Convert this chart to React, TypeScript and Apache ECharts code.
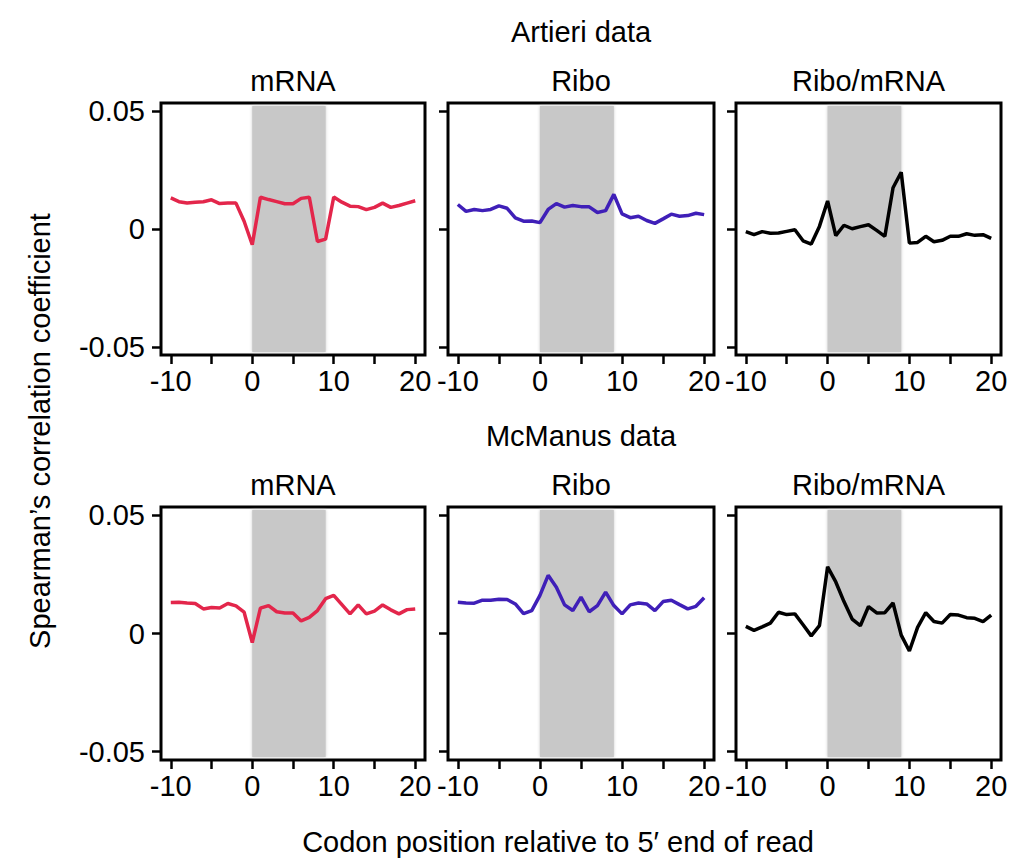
import React, { useEffect, useRef } from "react";
import * as echarts from "echarts";

const positions = [-10,-9,-8,-7,-6,-5,-4,-3,-2,-1,0,1,2,3,4,5,6,7,8,9,10,11,12,13,14,15,16,17,18,19,20];

const artieriMRNA = [0.0132,0.0116,0.011,0.0114,0.0116,0.0124,0.0108,0.011,0.011,0.0033,-0.0067,0.0135,0.0125,0.0116,0.0107,0.0107,0.013,0.0135,-0.0053,-0.0043,0.0136,0.0114,0.0097,0.0095,0.0082,0.0092,0.011,0.0092,0.01,0.011,0.012];
const artieriRibo = [0.0104,0.0075,0.0083,0.0078,0.0083,0.0098,0.0088,0.0047,0.0033,0.0034,0.0027,0.0083,0.0108,0.0093,0.01,0.0095,0.0094,0.007,0.0078,0.0147,0.0064,0.0048,0.0054,0.0036,0.0024,0.0043,0.0063,0.0054,0.0057,0.0067,0.0061];
const artieriRatio = [-0.0011,-0.0024,-0.0011,-0.0018,-0.0017,-0.001,-0.0003,-0.005,-0.0064,0.0011,0.0119,-0.0028,0.0016,0.0001,0.001,0.0018,-0.0006,-0.0031,0.0175,0.0241,-0.006,-0.0057,-0.0031,-0.0054,-0.0048,-0.0031,-0.0031,-0.002,-0.0027,-0.0024,-0.004];
const mcmanusMRNA = [0.0131,0.0132,0.0129,0.0127,0.0104,0.011,0.0108,0.0127,0.0117,0.009,-0.0038,0.0107,0.0118,0.0092,0.0087,0.0087,0.0053,0.0068,0.0097,0.0147,0.0161,0.0122,0.0083,0.0121,0.0083,0.0095,0.0121,0.01,0.0083,0.0101,0.0104];
const mcmanusRibo = [0.0132,0.0129,0.0128,0.0141,0.0141,0.0145,0.0144,0.0125,0.0084,0.0097,0.0161,0.0246,0.0196,0.0121,0.0097,0.0154,0.0092,0.0118,0.0175,0.0118,0.0083,0.0121,0.0129,0.0125,0.0097,0.0135,0.0141,0.0122,0.0104,0.0115,0.0151];
const mcmanusRatio = [0.003,0.0013,0.0028,0.0044,0.009,0.008,0.0083,0.0037,-0.001,0.0033,0.0282,0.0218,0.0135,0.0061,0.0033,0.0114,0.0087,0.0088,0.0129,-0.0007,-0.0074,0.0026,0.0088,0.0051,0.0044,0.008,0.0078,0.0067,0.0064,0.005,0.0078];

const panelTitles = ["mRNA", "Ribo", "Ribo/mRNA"];
const rowTitles = ["Artieri data", "McManus data"];
const xTicks = [-10, -5, 0, 5, 10, 15, 20];
const xTickLabels = [-10, 0, 10, 20];
const yTicks = [-0.05, 0, 0.05];
const shadeRange = [0, 9];

const FONT = "'Liberation Sans', Arial, Helvetica, sans-serif";
const FS = 29;

export default function App() {
  const ref = useRef<HTMLDivElement>(null);
  useEffect(() => {
    if (!ref.current) return;
    const chart = echarts.init(ref.current, null, { renderer: "svg" });
    const cols = [
      { left: 161, width: 264 },
      { left: 448, width: 266 },
      { left: 736, width: 265 },
    ];
    const rows = [
      { top: 103, height: 252 },
      { top: 507, height: 253 },
    ];
    const datasets = [
      [artieriMRNA, artieriRibo, artieriRatio],
      [mcmanusMRNA, mcmanusRibo, mcmanusRatio],
    ];
    const colors = ["#e3264b", "#3f1fb8", "#000000"];
    const grids: any[] = [];
    const xAxes: any[] = [];
    const yAxes: any[] = [];
    const series: any[] = [];
    const graphics: any[] = [];
    let idx = 0;
    rows.forEach((r, ri) => {
      graphics.push({
        type: "text",
        x: 581,
        y: ri === 0 ? 32 : 436,
        style: { text: rowTitles[ri], font: `${FS}px ${FONT}`, fill: "#000", textAlign: "center", textVerticalAlign: "middle" },
      });
      cols.forEach((c, ci) => {
        grids.push({
          left: c.left,
          top: r.top,
          width: c.width,
          height: r.height,
          show: true,
          borderColor: "#000",
          borderWidth: 3,
          backgroundColor: "transparent",
        });
        graphics.push({
          type: "text",
          x: c.left + c.width / 2,
          y: r.top - 22,
          style: { text: panelTitles[ci], font: `${FS}px ${FONT}`, fill: "#000", textAlign: "center", textVerticalAlign: "middle" },
        });
        xAxes.push({
          type: "value",
          gridIndex: idx,
          min: -11.2,
          max: 21.2,
          splitLine: { show: false },
          axisLine: { show: false, onZero: false },
          axisTick: { show: true, length: 9, customValues: xTicks, lineStyle: { color: "#000", width: 2.5 } },
          axisLabel: { show: true, customValues: xTickLabels, margin: 11, color: "#000", fontSize: FS, fontFamily: FONT },
        });
        yAxes.push({
          type: "value",
          gridIndex: idx,
          min: -0.0535,
          max: 0.0535,
          splitLine: { show: false },
          axisLine: { show: false, onZero: false },
          axisTick: { show: true, length: 9, customValues: yTicks, lineStyle: { color: "#000", width: 2.5 } },
          axisLabel: {
            show: ci === 0,
            customValues: yTicks,
            margin: 16,
            color: "#000",
            fontSize: FS,
            fontFamily: FONT,
            formatter: (v: number) => (Math.abs(v) < 1e-9 ? "0" : v.toFixed(2)),
          },
        });
        const vals = datasets[ri][ci];
        series.push({
          type: "line",
          xAxisIndex: idx,
          yAxisIndex: idx,
          data: positions.map((p, i) => [p, vals[i]]),
          symbol: "none",
          lineStyle: { color: colors[ci], width: 3.5 },
          z: 3,
          markArea: {
            silent: true,
            itemStyle: { color: "#c8c8c8", shadowBlur: 3, shadowColor: "#c8c8c8" },
            data: [[{ xAxis: shadeRange[0], yAxis: -0.0522 }, { xAxis: shadeRange[1], yAxis: 0.0522 }]],
          },
        });
        idx++;
      });
    });
    graphics.push({
      type: "text",
      x: 40,
      y: 431,
      rotation: Math.PI / 2,
      style: { text: "Spearman\u2019s correlation coefficient", font: `${FS}px ${FONT}`, fill: "#000", textAlign: "center", textVerticalAlign: "middle" },
    });
    graphics.push({
      type: "text",
      x: 558,
      y: 842,
      style: { text: "Codon position relative to 5\u2032 end of read", font: `${FS}px ${FONT}`, fill: "#000", textAlign: "center", textVerticalAlign: "middle" },
    });
    chart.setOption({
      animation: false,
      backgroundColor: "#fff",
      grid: grids,
      xAxis: xAxes,
      yAxis: yAxes,
      series,
      graphic: graphics,
    });
    return () => chart.dispose();
  }, []);
  return <div ref={ref} style={{ position: "fixed", left: 0, top: 0, width: 1023, height: 865 }} />;
}
